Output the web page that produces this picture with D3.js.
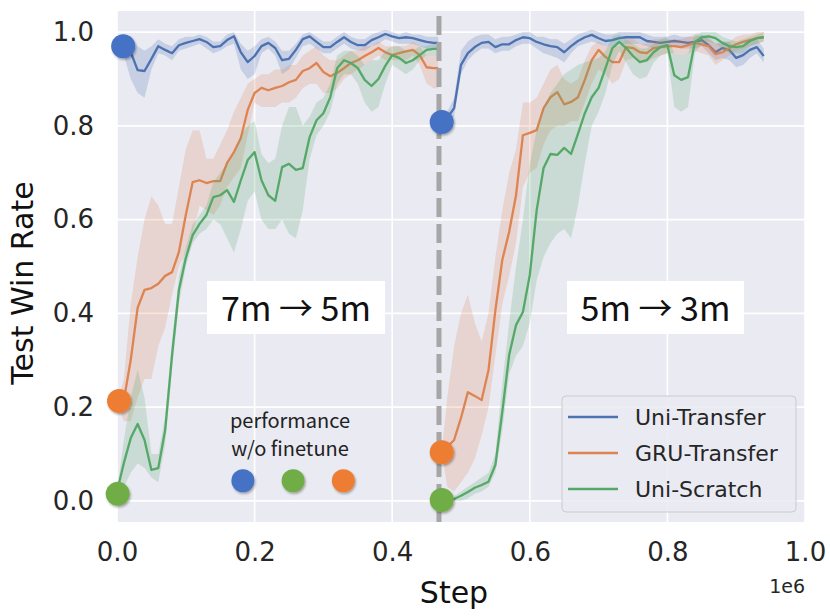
<!DOCTYPE html>
<html>
<head>
<meta charset="utf-8">
<script src="https://cdn.jsdelivr.net/npm/d3@7"></script>
<style>
  html, body { margin: 0; padding: 0; background: #fff; }
  svg { font-family: "DejaVu Sans", sans-serif; }
</style>
</head>
<body>
<svg id="chart"></svg>
<script>
// step values are in units of 1e6
const stepsLeft = [0, 0.01, 0.02, 0.03, 0.04, 0.05, 0.06, 0.07, 0.08, 0.09, 0.10, 0.11, 0.12, 0.13, 0.14, 0.15,
  0.16, 0.17, 0.18, 0.19, 0.20, 0.21, 0.22, 0.23, 0.24, 0.25, 0.26, 0.27, 0.28, 0.29, 0.30, 0.31,
  0.32, 0.33, 0.34, 0.35, 0.36, 0.37, 0.38, 0.39, 0.40, 0.41, 0.42, 0.43, 0.44, 0.45, 0.46, 0.467];
const stepsRight = [0.472, 0.48, 0.49, 0.50, 0.51, 0.52, 0.53, 0.54, 0.55, 0.56, 0.57, 0.58, 0.59, 0.60, 0.61, 0.62,
  0.63, 0.64, 0.65, 0.66, 0.67, 0.68, 0.69, 0.70, 0.71, 0.72, 0.73, 0.74, 0.75, 0.76, 0.77, 0.78,
  0.79, 0.80, 0.81, 0.82, 0.83, 0.84, 0.85, 0.86, 0.87, 0.88, 0.89, 0.90, 0.91, 0.92, 0.93, 0.94];

// Uni-Transfer
const uniTransferLeft = [0.970, 0.970, 0.957, 0.919, 0.917, 0.943, 0.970, 0.962, 0.955, 0.972, 0.977, 0.981, 0.985, 0.979, 0.968, 0.970,
  0.983, 0.991, 0.957, 0.936, 0.949, 0.970, 0.977, 0.966, 0.940, 0.943, 0.962, 0.985, 0.991, 0.979, 0.968, 0.968,
  0.979, 0.989, 0.979, 0.972, 0.972, 0.983, 0.989, 0.996, 0.991, 0.987, 0.989, 0.987, 0.983, 0.979, 0.977, 0.977];
const uniTransferLeftLo = [0.970, 0.950, 0.900, 0.870, 0.860, 0.920, 0.955, 0.950, 0.940, 0.960, 0.965, 0.970, 0.975, 0.965, 0.955, 0.960,
  0.970, 0.975, 0.920, 0.900, 0.910, 0.955, 0.965, 0.950, 0.910, 0.920, 0.945, 0.970, 0.975, 0.965, 0.955, 0.955,
  0.965, 0.975, 0.965, 0.960, 0.960, 0.970, 0.975, 0.985, 0.980, 0.975, 0.975, 0.975, 0.970, 0.965, 0.965, 0.965];
const uniTransferLeftHi = [0.970, 0.990, 0.990, 0.970, 0.960, 0.970, 0.985, 0.975, 0.970, 0.985, 0.990, 0.990, 0.995, 0.990, 0.980, 0.980,
  0.995, 1.000, 0.975, 0.960, 0.970, 0.985, 0.990, 0.980, 0.960, 0.960, 0.975, 0.995, 1.000, 0.990, 0.980, 0.980,
  0.990, 1.000, 0.990, 0.985, 0.985, 0.995, 1.000, 1.005, 1.000, 0.995, 1.000, 0.995, 0.995, 0.990, 0.990, 0.990];
const uniTransferRight = [0.808, 0.817, 0.838, 0.930, 0.955, 0.968, 0.977, 0.979, 0.968, 0.974, 0.974, 0.983, 0.989, 0.987, 0.979, 0.974,
  0.970, 0.968, 0.957, 0.970, 0.981, 0.989, 0.994, 0.987, 0.981, 0.983, 0.987, 0.989, 0.989, 0.989, 0.981, 0.979,
  0.977, 0.979, 0.981, 0.979, 0.977, 0.979, 0.983, 0.972, 0.957, 0.966, 0.962, 0.945, 0.951, 0.962, 0.968, 0.949];
const uniTransferRightLo = [0.808, 0.805, 0.820, 0.910, 0.940, 0.955, 0.965, 0.965, 0.955, 0.960, 0.960, 0.970, 0.975, 0.975, 0.965, 0.955,
  0.950, 0.945, 0.935, 0.955, 0.970, 0.975, 0.980, 0.975, 0.970, 0.970, 0.975, 0.975, 0.975, 0.975, 0.970, 0.965,
  0.965, 0.965, 0.970, 0.965, 0.965, 0.965, 0.970, 0.955, 0.940, 0.945, 0.940, 0.925, 0.930, 0.945, 0.955, 0.935];
const uniTransferRightHi = [0.808, 0.830, 0.860, 0.960, 0.980, 0.990, 0.995, 0.995, 0.985, 0.990, 0.990, 0.995, 1.000, 1.000, 0.990, 0.990,
  0.985, 0.985, 0.975, 0.985, 0.995, 1.000, 1.005, 1.000, 0.995, 0.995, 1.000, 1.000, 1.000, 1.000, 0.995, 0.990,
  0.990, 0.990, 0.995, 0.990, 0.990, 0.990, 0.995, 0.985, 0.975, 0.980, 0.980, 0.965, 0.970, 0.980, 0.985, 0.965];

// GRU-Transfer
const gruTransferLeft = [0.210, 0.215, 0.301, 0.412, 0.450, 0.454, 0.463, 0.480, 0.488, 0.531, 0.610, 0.680, 0.684, 0.678, 0.682, 0.682,
  0.721, 0.744, 0.774, 0.834, 0.870, 0.881, 0.876, 0.881, 0.885, 0.893, 0.898, 0.917, 0.923, 0.934, 0.915, 0.906,
  0.913, 0.923, 0.934, 0.940, 0.949, 0.957, 0.966, 0.957, 0.951, 0.955, 0.959, 0.962, 0.951, 0.925, 0.923, 0.923];
const gruTransferLeftLo = [0.21, 0.17, 0.17, 0.22, 0.26, 0.26, 0.33, 0.37, 0.44, 0.50, 0.53, 0.57, 0.63, 0.62, 0.61, 0.63,
  0.67, 0.69, 0.71, 0.78, 0.85, 0.84, 0.84, 0.84, 0.85, 0.85, 0.86, 0.88, 0.89, 0.89, 0.87, 0.87,
  0.88, 0.90, 0.91, 0.92, 0.93, 0.94, 0.95, 0.94, 0.94, 0.94, 0.94, 0.95, 0.93, 0.89, 0.88, 0.88];
const gruTransferLeftHi = [0.21, 0.26, 0.42, 0.52, 0.60, 0.65, 0.63, 0.59, 0.59, 0.67, 0.75, 0.79, 0.79, 0.73, 0.73, 0.76,
  0.79, 0.83, 0.86, 0.89, 0.90, 0.91, 0.91, 0.92, 0.92, 0.93, 0.93, 0.95, 0.96, 0.97, 0.95, 0.94,
  0.94, 0.95, 0.96, 0.96, 0.97, 0.97, 0.98, 0.97, 0.97, 0.97, 0.97, 0.98, 0.97, 0.95, 0.95, 0.95];
const gruTransferRight = [0.104, 0.115, 0.130, 0.177, 0.232, 0.224, 0.215, 0.279, 0.407, 0.514, 0.574, 0.652, 0.780, 0.785, 0.791, 0.838,
  0.861, 0.872, 0.846, 0.851, 0.861, 0.898, 0.940, 0.962, 0.947, 0.936, 0.936, 0.968, 0.966, 0.957, 0.955, 0.966,
  0.968, 0.970, 0.970, 0.968, 0.972, 0.977, 0.974, 0.970, 0.953, 0.957, 0.966, 0.974, 0.979, 0.983, 0.987, 0.989];
const gruTransferRightLo = [0.104, 0.03, 0.02, 0.04, 0.06, 0.09, 0.14, 0.20, 0.31, 0.42, 0.48, 0.55, 0.67, 0.70, 0.71, 0.76,
  0.79, 0.80, 0.80, 0.81, 0.81, 0.85, 0.89, 0.92, 0.91, 0.89, 0.90, 0.94, 0.945, 0.935, 0.935, 0.945,
  0.95, 0.955, 0.955, 0.95, 0.955, 0.96, 0.955, 0.95, 0.93, 0.94, 0.95, 0.96, 0.965, 0.97, 0.975, 0.98];
const gruTransferRightHi = [0.104, 0.22, 0.33, 0.40, 0.44, 0.38, 0.34, 0.40, 0.52, 0.62, 0.70, 0.75, 0.85, 0.85, 0.86, 0.89,
  0.92, 0.93, 0.90, 0.89, 0.90, 0.94, 0.97, 0.98, 0.97, 0.97, 0.97, 0.985, 0.985, 0.975, 0.975, 0.985,
  0.985, 0.985, 0.985, 0.985, 0.99, 0.995, 0.99, 0.99, 0.975, 0.975, 0.98, 0.99, 0.995, 0.995, 1.0, 1.0];

// Uni-Scratch
const uniScratchLeft = [0.020, 0.081, 0.134, 0.164, 0.130, 0.066, 0.070, 0.151, 0.311, 0.450, 0.518, 0.567, 0.591, 0.610, 0.648, 0.652,
  0.663, 0.638, 0.684, 0.727, 0.744, 0.684, 0.652, 0.640, 0.712, 0.719, 0.706, 0.710, 0.776, 0.812, 0.827, 0.861,
  0.923, 0.940, 0.934, 0.923, 0.898, 0.885, 0.900, 0.928, 0.951, 0.945, 0.934, 0.940, 0.951, 0.962, 0.964, 0.964];
const uniScratchLeftLo = [0.02, 0.03, 0.06, 0.08, 0.07, 0.05, 0.04, 0.12, 0.28, 0.42, 0.50, 0.55, 0.57, 0.58, 0.60, 0.59,
  0.56, 0.53, 0.58, 0.64, 0.66, 0.60, 0.58, 0.58, 0.60, 0.57, 0.56, 0.62, 0.73, 0.78, 0.80, 0.83,
  0.89, 0.91, 0.91, 0.89, 0.85, 0.83, 0.84, 0.89, 0.93, 0.92, 0.91, 0.92, 0.94, 0.95, 0.95, 0.95];
const uniScratchLeftHi = [0.02, 0.13, 0.22, 0.28, 0.22, 0.10, 0.10, 0.18, 0.34, 0.48, 0.54, 0.59, 0.61, 0.63, 0.68, 0.70,
  0.72, 0.74, 0.78, 0.80, 0.81, 0.74, 0.72, 0.73, 0.80, 0.84, 0.84, 0.80, 0.82, 0.85, 0.86, 0.89,
  0.95, 0.96, 0.96, 0.95, 0.93, 0.94, 0.94, 0.96, 0.97, 0.97, 0.96, 0.96, 0.97, 0.97, 0.975, 0.975];
const uniScratchRight = [0.002, 0.002, 0.004, 0.011, 0.019, 0.028, 0.034, 0.041, 0.077, 0.190, 0.311, 0.375, 0.403, 0.482, 0.620, 0.710,
  0.740, 0.738, 0.753, 0.740, 0.783, 0.827, 0.861, 0.881, 0.923, 0.966, 0.979, 0.966, 0.949, 0.936, 0.940, 0.957,
  0.968, 0.972, 0.908, 0.898, 0.904, 0.979, 0.989, 0.991, 0.987, 0.977, 0.970, 0.968, 0.970, 0.981, 0.987, 0.989];
const uniScratchRightLo = [0.002, 0.0, 0.0, 0.0, 0.005, 0.015, 0.02, 0.03, 0.06, 0.15, 0.27, 0.31, 0.33, 0.38, 0.47, 0.52,
  0.55, 0.57, 0.58, 0.56, 0.63, 0.72, 0.80, 0.83, 0.87, 0.93, 0.96, 0.935, 0.91, 0.90, 0.905, 0.935,
  0.95, 0.955, 0.84, 0.83, 0.84, 0.955, 0.975, 0.98, 0.975, 0.965, 0.955, 0.955, 0.955, 0.97, 0.975, 0.98];
const uniScratchRightHi = [0.002, 0.005, 0.01, 0.02, 0.03, 0.04, 0.05, 0.06, 0.10, 0.25, 0.38, 0.50, 0.60, 0.72, 0.79, 0.84,
  0.87, 0.89, 0.91, 0.92, 0.93, 0.935, 0.94, 0.945, 0.96, 0.99, 0.995, 0.985, 0.975, 0.965, 0.965, 0.975,
  0.985, 0.99, 0.955, 0.95, 0.955, 0.995, 1.0, 1.0, 1.0, 0.99, 0.985, 0.98, 0.985, 0.99, 0.995, 1.0];

const seriesNames = ['Uni-Transfer', 'GRU-Transfer', 'Uni-Scratch'];
const seriesColors = ['#4C72B0', '#DD8452', '#55A868'];

// performance without finetune (big dots)
const markerSteps = [0.009, 0.003, 0.001, 0.472, 0.472, 0.472];
const markerValues = [0.970, 0.213, 0.015, 0.808, 0.104, 0.002];
const markerColors = ['#4472C4', '#ED7D31', '#70AD47', '#4472C4', '#ED7D31', '#70AD47'];
const keyDotSteps = [0.183, 0.256, 0.329];
const keyDotValue = 0.043;
const keyDotColors = ['#4472C4', '#70AD47', '#ED7D31'];

const switchStep = 0.468;
const xTicks = [0, 0.2, 0.4, 0.6, 0.8, 1.0];
const yTicks = [0, 0.2, 0.4, 0.6, 0.8, 1.0];

document.addEventListener('DOMContentLoaded', function () {
  const width = 830, height = 616;
  const plot = { left: 117, right: 805, top: 11, bottom: 522 };
  const cjk = '"Noto Sans CJK SC", "Noto Sans", sans-serif';

  const svg = d3.select('#chart').attr('width', width).attr('height', height);

  const defs = svg.append('defs');
  const shadow = defs.append('filter').attr('id', 'shadow')
    .attr('x', '-50%').attr('y', '-50%').attr('width', '200%').attr('height', '200%');
  shadow.append('feDropShadow').attr('dx', 1).attr('dy', 1.5).attr('stdDeviation', 1.2)
    .attr('flood-color', '#000').attr('flood-opacity', 0.35);

  const x = d3.scaleLinear().domain([0, 1.0]).range([plot.left, plot.right]);
  const y = d3.scaleLinear().domain([-0.045, 1.045]).range([plot.bottom, plot.top]);

  // background + grid
  svg.append('rect').attr('x', plot.left).attr('y', plot.top)
    .attr('width', plot.right - plot.left).attr('height', plot.bottom - plot.top)
    .attr('fill', '#EAEAF2');
  svg.append('g').selectAll('line').data(xTicks).enter().append('line')
    .attr('x1', d => x(d)).attr('x2', d => x(d)).attr('y1', plot.top).attr('y2', plot.bottom)
    .attr('stroke', '#fff').attr('stroke-width', 1.6);
  svg.append('g').selectAll('line').data(yTicks).enter().append('line')
    .attr('x1', plot.left).attr('x2', plot.right).attr('y1', d => y(d)).attr('y2', d => y(d))
    .attr('stroke', '#fff').attr('stroke-width', 1.6);

  // axes
  const yAxis = svg.append('g').attr('transform', `translate(${plot.left},0)`)
    .call(d3.axisLeft(y).tickValues(yTicks).tickSize(0).tickPadding(23).tickFormat(d3.format('.1f')));
  const xAxis = svg.append('g').attr('transform', `translate(0,${plot.bottom})`)
    .call(d3.axisBottom(x).tickValues(xTicks).tickSize(0).tickPadding(21).tickFormat(d3.format('.1f')));
  [xAxis, yAxis].forEach(a => {
    a.select('.domain').remove();
    a.attr('font-family', null).attr('font-size', null);
    a.selectAll('text').style('font-family', '"DejaVu Sans", sans-serif').style('font-size', '26px').attr('fill', '#262626');
  });

  // series: bands then lines
  const segments = [
    [stepsLeft, uniTransferLeft, uniTransferLeftLo, uniTransferLeftHi, 0],
    [stepsRight, uniTransferRight, uniTransferRightLo, uniTransferRightHi, 0],
    [stepsLeft, gruTransferLeft, gruTransferLeftLo, gruTransferLeftHi, 1],
    [stepsRight, gruTransferRight, gruTransferRightLo, gruTransferRightHi, 1],
    [stepsLeft, uniScratchLeft, uniScratchLeftLo, uniScratchLeftHi, 2],
    [stepsRight, uniScratchRight, uniScratchRightLo, uniScratchRightHi, 2]
  ];

  const area = d3.area().x(d => x(d.s)).y0(d => y(d.lo)).y1(d => y(d.hi));
  const line = d3.line().x(d => x(d.s)).y(d => y(d.v));

  segments.forEach(seg => {
    const [steps, vals, lo, hi, idx] = seg;
    const pts = steps.map((s, i) => ({ s: s, v: vals[i], lo: lo[i], hi: hi[i] }));
    svg.append('path').datum(pts).attr('d', area)
      .attr('fill', seriesColors[idx]).attr('fill-opacity', 0.22).attr('stroke', 'none');
    svg.append('path').datum(pts).attr('d', line)
      .attr('fill', 'none').attr('stroke', seriesColors[idx]).attr('stroke-width', 2.3)
      .attr('stroke-linejoin', 'round');
  });

  // task switch line
  svg.append('line')
    .attr('x1', x(switchStep)).attr('x2', x(switchStep))
    .attr('y1', 16).attr('y2', plot.bottom)
    .attr('stroke', '#A6A6A6').attr('stroke-width', 5).attr('stroke-dasharray', '19,7');

  // markers (performance w/o finetune)
  svg.append('g').selectAll('circle').data(markerSteps).enter().append('circle')
    .attr('cx', d => x(d)).attr('cy', (d, i) => y(markerValues[i])).attr('r', 12)
    .attr('fill', (d, i) => markerColors[i]).attr('filter', 'url(#shadow)');
  svg.append('g').selectAll('circle').data(keyDotSteps).enter().append('circle')
    .attr('cx', d => x(d)).attr('cy', y(keyDotValue)).attr('r', 11.5)
    .attr('fill', (d, i) => keyDotColors[i]).attr('filter', 'url(#shadow)');

  svg.append('text').attr('x', 290).attr('y', 428).attr('text-anchor', 'middle')
    .style('font-family', cjk).style('font-size', '20px').attr('fill', '#222')
    .text('performance');
  svg.append('text').attr('x', 290).attr('y', 456).attr('text-anchor', 'middle')
    .style('font-family', cjk).style('font-size', '20px').attr('fill', '#222')
    .text('w/o finetune');

  // task boxes
  const boxes = [
    { x0: 207, x1: 385, label: '7m → 5m' },
    { x0: 567, x1: 744, label: '5m → 3m' }
  ];
  boxes.forEach(b => {
    svg.append('rect').attr('x', b.x0).attr('y', 281).attr('width', b.x1 - b.x0).attr('height', 53).attr('fill', '#fff');
    svg.append('text').attr('x', (b.x0 + b.x1) / 2).attr('y', 321).attr('text-anchor', 'middle')
      .style('font-family', cjk).style('font-size', '34px').attr('fill', '#111')
      .text(b.label);
  });

  // legend
  const lg = svg.append('g');
  lg.append('rect').attr('x', 562).attr('y', 396).attr('width', 234).attr('height', 116).attr('rx', 4)
    .attr('fill', '#EAEAF2').attr('fill-opacity', 0.85).attr('stroke', '#CCCCCC').attr('stroke-width', 1);
  seriesNames.forEach((name, i) => {
    const ly = 417 + i * 36;
    lg.append('line').attr('x1', 568).attr('x2', 618).attr('y1', ly).attr('y2', ly)
      .attr('stroke', seriesColors[i]).attr('stroke-width', 2.5);
    lg.append('text').attr('x', 635).attr('y', ly + 7.5).style('font-size', '22px').attr('fill', '#262626').text(name);
  });

  // axis titles
  svg.append('text').attr('x', 454).attr('y', 603).attr('text-anchor', 'middle')
    .style('font-size', '30px').attr('fill', '#111').text('Step');
  svg.append('text').attr('transform', 'translate(33,283) rotate(-90)').attr('text-anchor', 'middle')
    .style('font-size', '30px').attr('fill', '#111').text('Test Win Rate');
  svg.append('text').attr('x', 805).attr('y', 593).attr('text-anchor', 'end')
    .style('font-size', '19px').attr('fill', '#262626').text('1e6');
});
</script>
</body>
</html>
